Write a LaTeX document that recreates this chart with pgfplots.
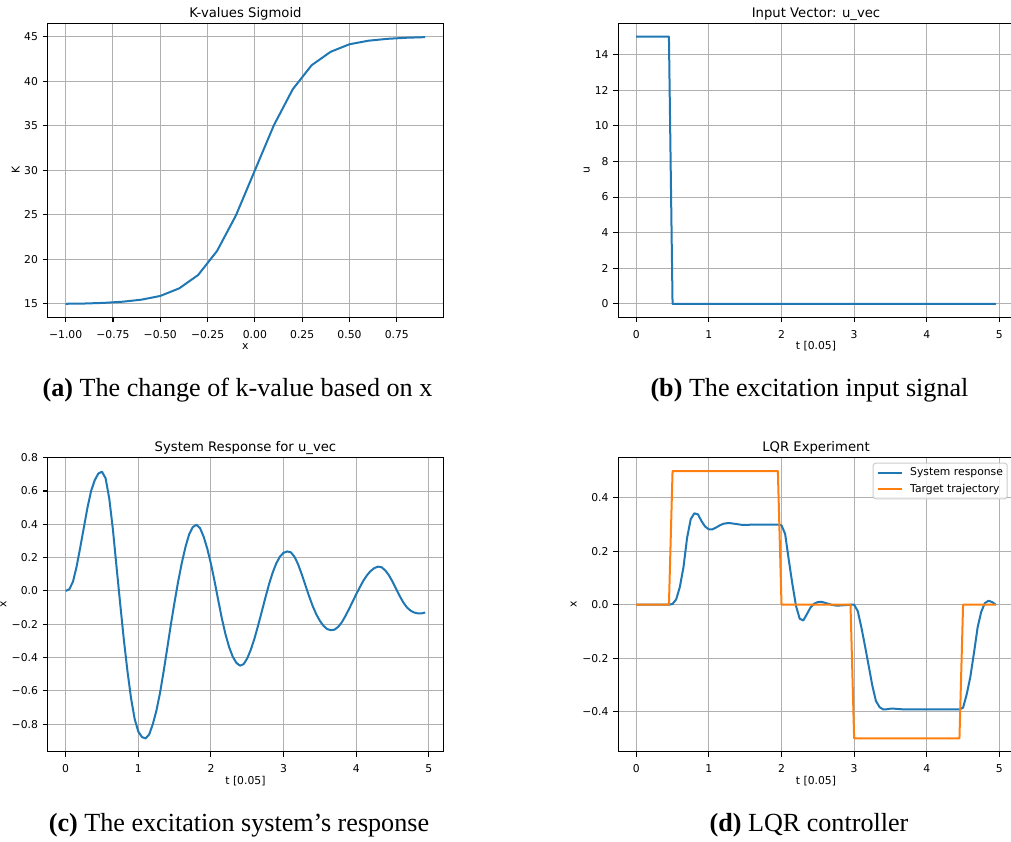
\documentclass[border=0pt]{standalone}
\usepackage{fontspec}
\setmainfont{DejaVu Sans}
\newfontfamily\capfont{Liberation Serif}
\usepackage{pgfplots}
\pgfplotsset{compat=1.18}
\definecolor{C0}{HTML}{1F77B4}
\definecolor{C1}{HTML}{FF7F0E}
\definecolor{gridc}{HTML}{B0B0B0}
\newcommand\ticksize{\fontsize{8.1pt}{9.7pt}\selectfont}
\newcommand\titlesize{\fontsize{9.9pt}{11.9pt}\selectfont}
\newcommand\capsize{\fontsize{19.6pt}{23pt}\selectfont}
\pgfplotsset{
  mpl/.style={
    scale only axis, width=296.6pt, height=220.5pt,
    axis line style={line width=0.8pt, black},
    tick align=outside, tick pos=left,
    major tick length=3.7pt,
    every tick/.style={black, line width=0.8pt},
    grid=major, major grid style={color=gridc, line width=0.75pt},
    tick label style={font=\ticksize},
    xticklabel style={anchor=base, inner sep=0pt, yshift=-12pt},
    yticklabel style={anchor=east, inner sep=0pt, xshift=-3.4pt},
    every axis title/.style={font=\titlesize, at={(0.5,1)}, anchor=base, yshift=4.5pt},
    every axis x label/.style={font=\ticksize, at={(0.5,0)}, anchor=base, yshift=-24.5pt},
    every axis y label/.style={font=\ticksize, at={(0,0.5)}, anchor=center, rotate=90},
    every axis plot/.append style={line width=1.5pt, line join=round},
  }
}
\begin{document}
\begin{tikzpicture}
% (a)
\begin{axis}[mpl, at={(35.78pt,393.5pt)}, anchor=south west,
  xmin=-1.095, xmax=0.995, ymin=13.5, ymax=46.5,
  xtick={-1,-0.75,-0.5,-0.25,0,0.25,0.5,0.75},
  xticklabels={−1.00,−0.75,−0.50,−0.25,0.00,0.25,0.50,0.75},
  ytick={15,20,25,30,35,40,45},
  yticklabels={15,20,25,30,35,40,45},
  title={K-values Sigmoid}, xlabel={x}, ylabel={K},
  ylabel style={yshift=24pt}]
\addplot[C0] coordinates {
(-1.0,15.02) (-0.9,15.05) (-0.8,15.12) (-0.7,15.25) (-0.6,15.48) (-0.5,15.9)
(-0.4,16.75) (-0.3,18.25) (-0.2,20.95) (-0.1,24.95) (0.0,30.0) (0.1,35.05)
(0.2,39.1) (0.3,41.8) (0.4,43.3) (0.5,44.15) (0.6,44.55) (0.7,44.76)
(0.8,44.88) (0.9,44.95)};
\end{axis}
% (b)
\begin{axis}[mpl, at={(463.7pt,393.5pt)}, anchor=south west,
  xmin=-0.2475, xmax=5.1975, ymin=-0.75, ymax=15.75,
  xtick={0,1,2,3,4,5}, xticklabels={0,1,2,3,4,5},
  ytick={0,2,4,6,8,10,12,14}, yticklabels={0,2,4,6,8,10,12,14},
  title={Input Vector: u\_vec}, xlabel={t [0.05]}, ylabel={u},
  ylabel style={yshift=23.7pt}]
\addplot[C0] coordinates {
(0,15) (0.05,15) (0.1,15) (0.15,15) (0.2,15) (0.25,15) (0.3,15) (0.35,15) (0.4,15) (0.45,15)
(0.5,0) (1,0) (1.5,0) (2,0) (2.5,0) (3,0) (3.5,0) (4,0) (4.5,0) (4.95,0)};
\end{axis}
% (c)
\begin{axis}[mpl, at={(35.78pt,67.7pt)}, anchor=south west,
  xmin=-0.2475, xmax=5.1975, ymin=-0.966, ymax=0.80,
  xtick={0,1,2,3,4,5}, xticklabels={0,1,2,3,4,5},
  ytick={-0.8,-0.6,-0.4,-0.2,0,0.2,0.4,0.6,0.8},
  yticklabels={−0.8,−0.6,−0.4,−0.2,0.0,0.2,0.4,0.6,0.8},
  title={System Response for u\_vec}, xlabel={t [0.05]}, ylabel={x},
  ylabel style={yshift=33.2pt}]
\addplot[C0] coordinates {
(0.00,0.000) (0.05,0.010) (0.10,0.055) (0.15,0.145) (0.20,0.260) (0.25,0.380)
(0.30,0.500) (0.35,0.600) (0.40,0.665) (0.45,0.705) (0.50,0.716) (0.55,0.676)
(0.60,0.555) (0.65,0.370) (0.70,0.145) (0.75,-0.075) (0.80,-0.290) (0.85,-0.480)
(0.90,-0.645) (0.95,-0.770) (1.00,-0.845) (1.05,-0.878) (1.10,-0.886) (1.15,-0.862)
(1.20,-0.800) (1.25,-0.718) (1.30,-0.610) (1.35,-0.480) (1.40,-0.340) (1.45,-0.197)
(1.50,-0.065) (1.55,0.060) (1.60,0.170) (1.65,0.265) (1.70,0.340) (1.75,0.383)
(1.80,0.397) (1.85,0.377) (1.90,0.325) (1.95,0.253) (2.00,0.163) (2.05,0.058)
(2.10,-0.055) (2.15,-0.165) (2.20,-0.260) (2.25,-0.337) (2.30,-0.395) (2.35,-0.432)
(2.40,-0.449) (2.45,-0.440) (2.50,-0.405) (2.55,-0.352) (2.60,-0.285) (2.65,-0.207)
(2.70,-0.124) (2.75,-0.040) (2.80,0.040) (2.85,0.110) (2.90,0.166) (2.95,0.206)
(3.00,0.229) (3.05,0.237) (3.10,0.232) (3.15,0.205) (3.20,0.160) (3.25,0.100)
(3.30,0.035) (3.35,-0.030) (3.40,-0.090) (3.45,-0.140) (3.50,-0.180) (3.55,-0.210)
(3.60,-0.229) (3.65,-0.236) (3.70,-0.233) (3.75,-0.217) (3.80,-0.190) (3.85,-0.152)
(3.90,-0.110) (3.95,-0.065) (4.00,-0.020) (4.05,0.022) (4.10,0.062) (4.15,0.095)
(4.20,0.120) (4.25,0.137) (4.30,0.146) (4.35,0.142) (4.40,0.123) (4.45,0.094)
(4.50,0.056) (4.55,0.012) (4.60,-0.032) (4.65,-0.070) (4.70,-0.100) (4.75,-0.119)
(4.80,-0.130) (4.85,-0.135) (4.90,-0.135) (4.95,-0.130)};
\end{axis}
% (d)
\begin{axis}[mpl, at={(463.7pt,67.7pt)}, anchor=south west,
  xmin=-0.2475, xmax=5.1975, ymin=-0.55, ymax=0.55,
  xtick={0,1,2,3,4,5}, xticklabels={0,1,2,3,4,5},
  ytick={-0.4,-0.2,0,0.2,0.4},
  yticklabels={−0.4,−0.2,0.0,0.2,0.4},
  title={LQR Experiment}, xlabel={t [0.05]}, ylabel={x},
  ylabel style={yshift=33.4pt},
  legend image code/.code={\draw[#1] (0pt,0pt) -- (17.5pt,0pt);},
  legend cell align=left,
  legend style={at={(1,1)}, anchor=north east, xshift=-4.5pt, yshift=-3.75pt,
    draw=black!20, line width=0.75pt, rounded corners=2pt, fill=white, fill opacity=0.8, text opacity=1,
    font=\ticksize, inner xsep=3.2pt, inner ysep=3.4pt, row sep=4.5pt,
    nodes={inner sep=0pt, text height=6pt, text depth=1.7pt},
    /tikz/every odd column/.append style={column sep=5.7pt}}]
\addplot[C0] coordinates {
(0.00,0) (0.05,0) (0.10,0) (0.15,0) (0.20,0) (0.25,0) (0.30,0) (0.35,0) (0.40,0) (0.45,0)
(0.50,0.003) (0.55,0.020) (0.60,0.066) (0.65,0.140) (0.70,0.250) (0.75,0.320)
(0.80,0.342) (0.85,0.338) (0.90,0.312) (0.95,0.292) (1.00,0.282) (1.05,0.282)
(1.10,0.289) (1.15,0.297) (1.20,0.303) (1.25,0.305) (1.30,0.305) (1.35,0.303)
(1.40,0.301) (1.45,0.299) (1.50,0.299) (1.55,0.299) (1.60,0.300) (1.65,0.300)
(1.70,0.300) (1.75,0.300) (1.80,0.300) (1.85,0.300) (1.90,0.300) (1.95,0.300)
(2.00,0.297) (2.05,0.265) (2.10,0.168) (2.15,0.077) (2.20,-0.005) (2.25,-0.052)
(2.30,-0.059) (2.35,-0.035) (2.40,-0.010) (2.45,0.004) (2.50,0.010) (2.55,0.011)
(2.60,0.007) (2.65,0.003) (2.70,-0.001) (2.75,-0.003) (2.80,-0.003) (2.85,-0.002)
(2.90,-0.001) (2.95,0.000) (3.00,0.000) (3.05,-0.024) (3.10,-0.085) (3.15,-0.155)
(3.20,-0.228) (3.25,-0.302) (3.30,-0.360) (3.35,-0.383) (3.40,-0.392) (3.45,-0.391)
(3.50,-0.389) (3.55,-0.389) (3.60,-0.390) (3.65,-0.391) (3.70,-0.392) (3.75,-0.392)
(3.80,-0.392) (3.85,-0.392) (3.90,-0.392) (3.95,-0.392) (4.00,-0.392) (4.05,-0.392)
(4.10,-0.392) (4.15,-0.392) (4.20,-0.392) (4.25,-0.392) (4.30,-0.392) (4.35,-0.392)
(4.40,-0.392) (4.45,-0.392) (4.50,-0.385) (4.55,-0.335) (4.60,-0.270) (4.65,-0.180)
(4.70,-0.085) (4.75,-0.026) (4.80,0.006) (4.85,0.015) (4.90,0.010) (4.95,0.000)};
\addlegendentry{System response}
\addplot[C1] coordinates {
(0,0) (0.45,0) (0.5,0.5) (1.95,0.5) (2.0,0) (2.95,0) (3.0,-0.5) (4.45,-0.5) (4.5,0) (4.95,0)};
\addlegendentry{Target trajectory}
\end{axis}
% captions
\node[anchor=base, font=\capfont\capsize] at (178.1pt,333.75pt) {\textbf{(a)} The change of k-value based on x};
\node[anchor=base, font=\capfont\capsize] at (607.1pt,333.75pt) {\textbf{(b)} The excitation input signal};
\node[anchor=base, font=\capfont\capsize] at (179.25pt,7.5pt) {\textbf{(c)} The excitation system’s response};
\node[anchor=base, font=\capfont\capsize] at (606.75pt,7.5pt) {\textbf{(d)} LQR controller};
\pgfresetboundingbox
\useasboundingbox (0pt,0pt) rectangle (758.25pt,631.5pt);
\end{tikzpicture}
\end{document}
